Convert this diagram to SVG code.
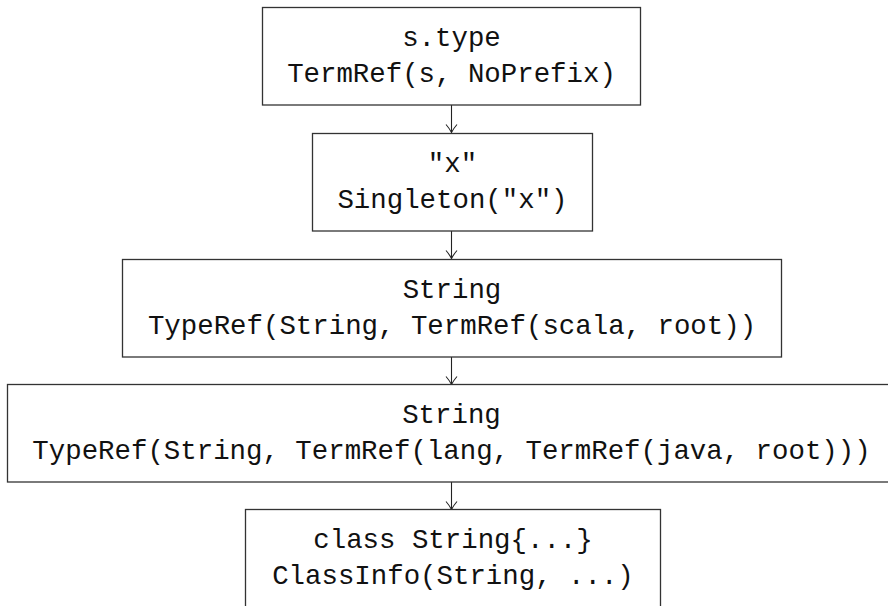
<svg xmlns="http://www.w3.org/2000/svg" width="888" height="606" viewBox="0 0 888 606">
<style>
.box{fill:#fff;stroke:#333;stroke-width:1.3}
.t{font-family:"Liberation Mono","DejaVu Sans Mono",monospace;font-size:27.4px;fill:#111;text-anchor:middle}
.c{fill:none;stroke:#222;stroke-width:1.1}
</style>
<defs>
<marker id="ah" markerUnits="userSpaceOnUse" markerWidth="12" markerHeight="14" refX="10" refY="7" orient="auto" viewBox="0 0 12 14">
<path d="M2,1.5 Q6,5 10,7 Q6,9 2,12.5" fill="none" stroke="#222" stroke-width="1.1"/>
</marker>
</defs>
<rect width="888" height="606" fill="#fff"/>
<g id="connectors">
<line class="c" x1="451.5" y1="105" x2="451.5" y2="132.5" marker-end="url(#ah)"/>
<line class="c" x1="451.5" y1="231" x2="451.5" y2="258.5" marker-end="url(#ah)"/>
<line class="c" x1="451.5" y1="357" x2="451.5" y2="384.5" marker-end="url(#ah)"/>
<line class="c" x1="451.5" y1="482" x2="451.5" y2="509.5" marker-end="url(#ah)"/>
</g>
<g id="n1">
<rect class="box" x="262.5" y="7.5" width="378" height="97.5"/>
<text class="t" x="451.5" y="46">s.type</text>
<text class="t" x="451.5" y="82">TermRef(s, NoPrefix)</text>
</g>
<g id="n2">
<rect class="box" x="312.5" y="133.5" width="280" height="97.5"/>
<text class="t" x="452.5" y="172">"x"</text>
<text class="t" x="452.5" y="208">Singleton("x")</text>
</g>
<g id="n3">
<rect class="box" x="122.5" y="259.5" width="659" height="97.5"/>
<text class="t" x="452" y="298">String</text>
<text class="t" x="452" y="334">TypeRef(String, TermRef(scala, root))</text>
</g>
<g id="n4">
<rect class="box" x="7.5" y="384.5" width="888" height="97.5"/>
<text class="t" x="451.5" y="423">String</text>
<text class="t" x="451.5" y="459">TypeRef(String, TermRef(lang, TermRef(java, root)))</text>
</g>
<g id="n5">
<rect class="box" x="245.5" y="509.5" width="415" height="110"/>
<text class="t" x="453" y="548">class String{...}</text>
<text class="t" x="453" y="584">ClassInfo(String, ...)</text>
</g>
</svg>
